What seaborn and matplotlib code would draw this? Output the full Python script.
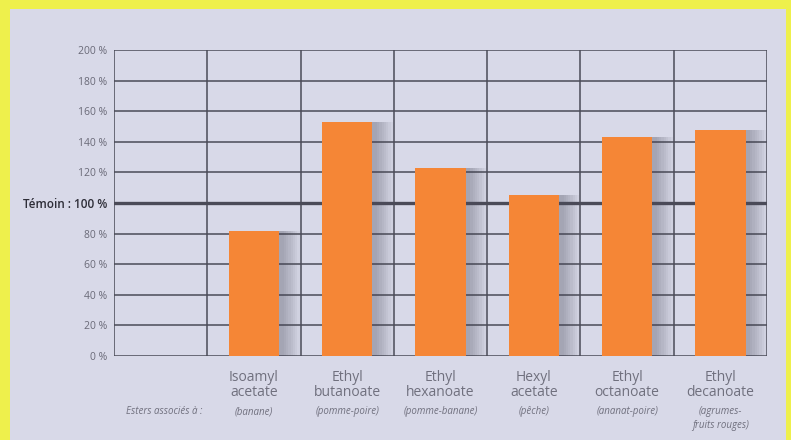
import matplotlib
matplotlib.use("Agg")
import matplotlib.pyplot as plt
import matplotlib.patches as mpatches
import seaborn as sns
import pandas as pd
import numpy as np

esters = ["Isoamyl\nacetate", "Ethyl\nbutanoate", "Ethyl\nhexanoate",
          "Hexyl\nacetate", "Ethyl\noctanoate", "Ethyl\ndecanoate"]
aromas = ["(banane)", "(pomme-poire)", "(pomme-banane)", "(pêche)",
          "(ananat-poire)", "(agrumes-\nfruits rouges)"]
values = [82, 153, 123, 105, 143, 148]
yticks = [0, 20, 40, 60, 80, 100, 120, 140, 160, 180, 200]
ytick_labels = ["0 %", "20 %", "40 %", "60 %", "80 %", "Témoin : 100 %",
                "120 %", "140 %", "160 %", "180 %", "200 %"]

df = pd.DataFrame({"ester": esters, "value": values})

sns.set_theme(style="white")
plt.rcParams["font.family"] = ["Open Sans", "DejaVu Sans"]

W, H = 791, 440
fig = plt.figure(figsize=(W / 100, H / 100), dpi=100, facecolor="#eef04c")
bg = mpatches.Rectangle((10 / W, 0), (786 - 10) / W, (440 - 9) / H,
                        transform=fig.transFigure, facecolor="#d8d9e8",
                        edgecolor="none", zorder=-10)
fig.patches.append(bg)

ax = fig.add_axes([114 / W, (H - 356) / H, (767 - 114) / W, (356 - 50) / H])
ax.set_zorder(5)
ax.patch.set_alpha(0)

# shadows
x = np.arange(len(values))
for i, off in enumerate(np.linspace(0.05, 0.22, 8)):
    ax.bar(x + off, values, width=0.54, color="#4a4a5a", alpha=0.05,
           zorder=2, linewidth=0)

sns.barplot(data=df, x="ester", y="value", color="#f58636", saturation=1,
            width=0.54, ax=ax, zorder=3, linewidth=0)

ax.set_xlim(-1.5, 5.5)
ax.set_ylim(0, 200)

grid_c = "#4b4b58"
for yv in yticks:
    ax.axhline(yv, color=grid_c, lw=2.4 if yv == 100 else 1.1, zorder=1)
for xv in np.arange(-1.5, 5.6, 1.0):
    ax.axvline(xv, color=grid_c, lw=1.1, zorder=1)

for s in ax.spines.values():
    s.set_visible(False)

ax.set_yticks(yticks)
ax.set_yticklabels(ytick_labels)
for lbl, yv in zip(ax.get_yticklabels(), yticks):
    if yv == 100:
        lbl.set_fontsize(8.5)
        lbl.set_color("#2e2e38")
        lbl.set_fontweight("semibold")
    else:
        lbl.set_fontsize(7.5)
        lbl.set_color("#6a6a78")
ax.tick_params(axis="y", length=0, pad=5)
ax.tick_params(axis="x", length=0)
ax.set_xticks([])
ax.set_xlabel("")
ax.set_ylabel("")

trans = ax.get_xaxis_transform()
for xi, (name, aroma) in enumerate(zip(esters, aromas)):
    ax.text(xi, -0.045, name, transform=trans, ha="center", va="top",
            fontsize=10, color="#70707e", linespacing=1.05)
    ax.text(xi, -0.165, aroma, transform=trans, ha="center", va="top",
            fontsize=7, style="italic", color="#70707e", linespacing=1.3)
ax.text(-0.55, -0.165, "Esters associés à :", transform=trans, ha="right",
        va="top", fontsize=7, style="italic", color="#70707e")

fig.savefig("out.png", dpi=100, facecolor=fig.get_facecolor())
